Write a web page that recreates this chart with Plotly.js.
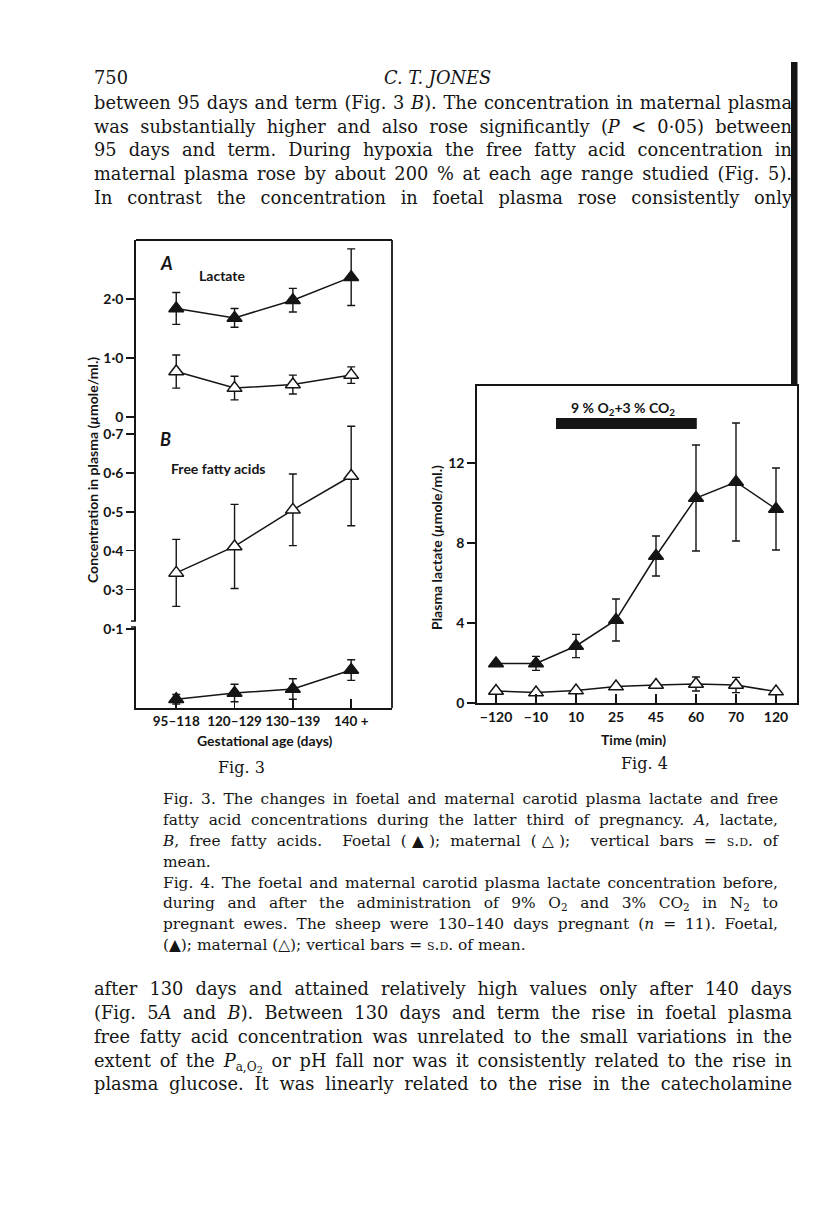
<!DOCTYPE html>
<html>
<head>
<meta charset="utf-8">
<script src="https://cdn.plot.ly/plotly-3.0.1.min.js"></script>
<style>
  html, body { margin: 0; padding: 0; background: #fff; }
  #page { position: relative; width: 816px; height: 1221px; overflow: hidden;
          font-family: "DejaVu Serif", serif; color: #151515; }
  .ln { position: absolute; overflow: visible; text-align: justify; text-align-last: justify; }
  .body { left: 94px; width: 698px; font-size: 17.8px; height: 24px; line-height: 24px; }
  .cap { left: 163px; width: 615px; font-size: 15.4px; height: 21px; line-height: 21px; }
  .left { text-align: left; text-align-last: left; }
  .sc { font-variant: small-caps; }
  sub { font-size: 0.68em; vertical-align: -0.3em; line-height: 0; }
  sub sub { font-size: 0.8em; vertical-align: -0.2em; }
  #plot { position: absolute; left: 0; top: 0; width: 816px; height: 1221px; }
</style>
</head>
<body>
<div id="page">
  <div class="ln body left" style="top:66px;">750</div>
  <div class="ln body left" style="top:66px; left:384px; width:160px; font-style:italic;">C. T. JONES</div>

  <div class="ln body" style="top:91px;">between 95 days and term (Fig. 3 <i>B</i>). The concentration in maternal plasma</div>
  <div class="ln body" style="top:115px;">was substantially higher and also rose significantly (<i>P</i> &lt; 0·05) between</div>
  <div class="ln body" style="top:138px;">95 days and term. During hypoxia the free fatty acid concentration in</div>
  <div class="ln body" style="top:162px;">maternal plasma rose by about 200 % at each age range studied (Fig. 5).</div>
  <div class="ln body" style="top:186px;">In contrast the concentration in foetal plasma rose consistently only</div>

  <div class="ln cap" style="top:789px;">Fig. 3. The changes in foetal and maternal carotid plasma lactate and free</div>
  <div class="ln cap" style="top:810px;">fatty acid concentrations during the latter third of pregnancy. <i>A</i>, lactate,</div>
  <div class="ln cap" style="top:831px;"><i>B</i>, free fatty acids.&nbsp; Foetal (▲); maternal (△);&nbsp; vertical bars = <span class="sc">s.d.</span> of</div>
  <div class="ln cap left" style="top:852px;">mean.</div>

  <div class="ln cap" style="top:873px;">Fig. 4. The foetal and maternal carotid plasma lactate concentration before,</div>
  <div class="ln cap" style="top:893px;">during and after the administration of 9% O<sub>2</sub> and 3% CO<sub>2</sub> in N<sub>2</sub> to</div>
  <div class="ln cap" style="top:914px;">pregnant ewes. The sheep were 130–140 days pregnant (<i>n</i> = 11). Foetal,</div>
  <div class="ln cap left" style="top:935px;">(▲); maternal (△); vertical bars = <span class="sc">s.d.</span> of mean.</div>

  <div class="ln body" style="top:977px;">after 130 days and attained relatively high values only after 140 days</div>
  <div class="ln body" style="top:1001px;">(Fig. 5<i>A</i> and <i>B</i>). Between 130 days and term the rise in foetal plasma</div>
  <div class="ln body" style="top:1025px;">free fatty acid concentration was unrelated to the small variations in the</div>
  <div class="ln body" style="top:1049px;">extent of the <i>P</i><sub>a,O<sub>2</sub></sub> or pH fall nor was it consistently related to the rise in</div>
  <div class="ln body" style="top:1072px;">plasma glucose. It was linearly related to the rise in the catecholamine</div>

  <div id="plot"></div>
</div>
<script>
// Fig. 3 - gestational age groups
const ageGroups = ["95–118", "120–129", "130–139", "140 +"];
const foetalLactate = [1.84, 1.68, 1.98, 2.37];
const foetalLactateSD = [0.27, 0.16, 0.2, 0.48];
const maternalLactate = [0.77, 0.49, 0.55, 0.71];
const maternalLactateSD = [0.28, 0.2, 0.16, 0.14];
const maternalFFA = [0.343, 0.411, 0.505, 0.592];
const maternalFFASD = [0.086, 0.108, 0.092, 0.128];
const foetalFFA = [0.011, 0.019, 0.024, 0.048];
const foetalFFASD = [0.006, 0.011, 0.013, 0.013];

// Fig. 4 - time course during hypoxia
const timeLabels = ["−120", "−10", "10", "25", "45", "60", "70", "120"];
const foetalTimeLactate = [1.98, 1.98, 2.85, 4.15, 7.35, 10.25, 11.05, 9.7];
const foetalTimeLactateSD = [0.1, 0.35, 0.58, 1.05, 1.0, 2.65, 2.95, 2.05];
const maternalTimeLactate = [0.6, 0.52, 0.62, 0.82, 0.9, 0.95, 0.9, 0.57];
const maternalTimeLactateSD = [0, 0, 0, 0, 0, 0.35, 0.38, 0];
const hypoxiaStart = 1.5;  // between -10 and 10 min
const hypoxiaEnd = 5.02;   // 60 min

const W = 816, H = 1221;
const px = v => v / W;
const py = v => 1 - v / H;
const ink = "#151515";
const tickFont = { family: "Lato, sans-serif", size: 14, color: ink, weight: "bold" };

// one trace per series, filled or open triangles
function series(x, y, sd, filled, xa, ya) {
  return {
    x: x, y: y, xaxis: xa, yaxis: ya,
    type: "scatter", mode: "lines+markers",
    line: { color: ink, width: 1.5 },
    marker: { symbol: "triangle-up", size: 13, color: filled ? ink : "#fff",
              line: { color: ink, width: 1.5 } },
    error_y: { type: "data", array: sd, visible: true, color: ink, thickness: 1.4, width: 4 },
    cliponaxis: false, showlegend: false
  };
}

const data = [
  series(ageGroups, foetalLactate, foetalLactateSD, true, "x", "y"),
  series(ageGroups, maternalLactate, maternalLactateSD, false, "x", "y"),
  series(ageGroups, maternalFFA, maternalFFASD, false, "x", "y2"),
  series(ageGroups, foetalFFA, foetalFFASD, true, "x", "y3"),
  series(timeLabels, maternalTimeLactate, maternalTimeLactateSD, false, "x2", "y4"),
  series(timeLabels, foetalTimeLactate, foetalTimeLactateSD, true, "x2", "y4")
];

const yCommon = {
  anchor: "x", ticks: "outside", ticklen: 8, tickwidth: 1.5, tickcolor: ink,
  showline: true, linewidth: 1.8, linecolor: ink, showgrid: false, zeroline: false,
  tickfont: tickFont, fixedrange: true
};

function note(text, x, y, size, extra) {
  return Object.assign({
    text: text, xref: "paper", yref: "paper", x: px(x), y: py(y),
    xanchor: "center", yanchor: "middle", showarrow: false,
    font: { family: "Lato, sans-serif", size: size, color: ink, weight: "bold" }
  }, extra || {});
}

function line(x0, y0, x1, y1, w) {
  return { type: "line", xref: "paper", yref: "paper",
           x0: px(x0), y0: py(y0), x1: px(x1), y1: py(y1),
           line: { color: ink, width: w || 1.8 } };
}

const layout = {
  width: W, height: H,
  margin: { l: 0, r: 0, t: 0, b: 0 },
  paper_bgcolor: "rgba(0,0,0,0)", plot_bgcolor: "rgba(0,0,0,0)",
  showlegend: false,
  xaxis: {
    domain: [px(136), px(392)], anchor: "y3", type: "category", range: [-0.69, 3.7],
    ticks: "inside", ticklen: 9, tickwidth: 1.5, tickcolor: ink, tickangle: 0,
    showline: true, linewidth: 1.8, linecolor: ink, showgrid: false, zeroline: false,
    tickfont: Object.assign({}, tickFont, { size: 13.5 })
  },
  yaxis: Object.assign({}, yCommon, {
    domain: [py(417), py(240)], range: [0, 3.0],
    tickvals: [0, 1, 2], ticktext: ["0", "1·0", "2·0"]
  }),
  yaxis2: Object.assign({}, yCommon, {
    domain: [py(621), py(417)], range: [0.2193, 0.7437],
    tickvals: [0.3, 0.4, 0.5, 0.6, 0.7], ticktext: ["0·3", "0·4", "0·5", "0·6", "0·7"]
  }),
  yaxis3: Object.assign({}, yCommon, {
    domain: [py(708), py(627)], range: [0, 0.1025],
    tickvals: [0.1], ticktext: ["0·1"]
  }),
  xaxis2: {
    domain: [px(477), px(797)], anchor: "y4", type: "category", range: [-0.475, 7.525],
    ticks: "inside", ticklen: 9, tickwidth: 1.5, tickcolor: ink, tickangle: 0,
    showline: true, mirror: true, linewidth: 1.8, linecolor: ink,
    showgrid: false, zeroline: false, tickfont: tickFont
  },
  yaxis4: Object.assign({}, yCommon, {
    anchor: "x2", domain: [py(703), py(386)], range: [0, 15.85], mirror: true,
    tickvals: [0, 4, 8, 12], ticktext: ["0", "4", "8", "12"]
  }),
  shapes: [
    line(136, 240, 392, 240),
    line(392, 240, 392, 708),
    line(131, 621, 136, 621, 1.5),
    line(131, 627, 136, 627, 1.5),
    { type: "rect", xref: "x2", yref: "y4", x0: hypoxiaStart, x1: hypoxiaEnd,
      y0: 13.7, y1: 14.25, fillcolor: ink, line: { width: 0 } },
    { type: "rect", xref: "paper", yref: "paper", x0: px(791), x1: px(797.5),
      y0: py(386), y1: py(62), fillcolor: ink, line: { width: 0 } }
  ],
  annotations: [
    note("<i>A</i>", 166, 263, 18),
    note("Lactate", 222, 275, 14),
    note("<i>B</i>", 165, 439, 18),
    note("Free fatty acids", 218, 468, 14),
    note("Concentration in plasma (<i>µ</i>mole/ml.)", 93, 470, 14, { textangle: -90 }),
    note("Gestational age (days)", 264, 740, 14),
    note("Fig. 3", 241, 767, 16, { font: { family: "DejaVu Serif, serif", size: 16, color: ink } }),
    note("9 % O<sub>2</sub>+3 % CO<sub>2</sub>", 623, 408, 14),
    note("Plasma lactate (<i>µ</i>mole/ml.)", 437, 548, 14, { textangle: -90 }),
    note("Time (min)", 633, 739, 14),
    note("Fig. 4", 644, 763, 16, { font: { family: "DejaVu Serif, serif", size: 16, color: ink } })
  ]
};

Plotly.newPlot("plot", data, layout, { staticPlot: true, displayModeBar: false });
</script>
</body>
</html>
